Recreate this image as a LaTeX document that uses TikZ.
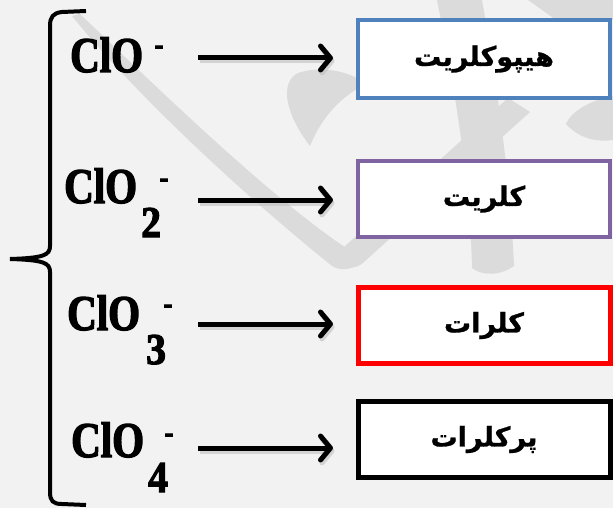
\documentclass[tikz,border=0pt]{standalone}
\usepackage{fontspec}
\usetikzlibrary{arrows.meta}
\setmainfont{Liberation Serif}
\newfontfamily\ionfont[UprightFont={* Bold}, FakeBold=2.5, FakeStretch=0.82]{Liberation Serif}
\newfontfamily\idxfont[UprightFont={* Bold}, FakeBold=2.5, FakeStretch=0.9]{Liberation Serif}
\newfontfamily\arabicfont[Script=Arabic, FakeBold=1]{DejaVu Sans}
\TeXXeTstate=1

\definecolor{bg}{HTML}{F2F2F2}
\definecolor{wm}{HTML}{DBDBDB}
\definecolor{boxblue}{HTML}{4F81BD}
\definecolor{boxpurple}{HTML}{8064A2}
\definecolor{boxred}{HTML}{FF0000}

\tikzset{
  brace/.style={line width=4pt, black},
  ion/.style={anchor=base west, inner sep=0pt, text depth=0pt,
    font=\ionfont\fontsize{50}{50}\selectfont},
  charge/.style={inner sep=0pt, font=\idxfont\fontsize{30}{30}\selectfont},
  idx/.style={anchor=base west, inner sep=0pt, text depth=0pt,
    font=\idxfont\fontsize{44}{44}\selectfont},
  arr/.style={line width=5pt,
    -{Straight Barb[length=10pt,width=24pt,line cap=round,line join=round]}},
  arrshadow/.style={arr, draw=black!25, opacity=0.6},
  namebox/.style={draw, line width=4pt, fill=white, minimum width=252pt,
    inner sep=0pt, font=\arabicfont\bfseries\fontsize{27}{27}\selectfont},
}

\begin{document}
\begin{tikzpicture}[x=1pt,y=-1pt]
  \useasboundingbox (0,0) rectangle (613,508);
  \fill[bg] (0,0) rectangle (613,508);

  % calligraphic watermark in the background
  \fill[wm] (72,16) -- (80,14)
    .. controls (180,110) and (290,215) .. (362,258)
    .. controls (356,270) and (342,272) .. (332,266)
    .. controls (250,200) and (140,100) .. cycle;
  \fill[wm] (332,258) -- (508,98) -- (530,112) -- (364,262)
    .. controls (356,270) and (342,270) .. cycle;
  \fill[wm] (437,0) -- (482,0) .. controls (498,90) and (510,180) .. (514,266)
    .. controls (500,276) and (482,276) .. (472,268)
    .. controls (470,180) and (455,90) .. cycle;
  \fill[wm] (310,146) .. controls (284,112) and (280,82) .. (298,73)
    .. controls (325,64) and (355,74) .. (366,84)
    .. controls (342,96) and (322,116) .. cycle;
  \fill[wm] (528,0) -- (613,0) -- (613,20) -- (556,20) -- cycle;
  \fill[wm] (613,96) .. controls (592,100) and (572,110) .. (566,124)
    .. controls (580,140) and (600,142) .. (613,140) -- cycle;

  % grouping brace
  \draw[brace] (86,11) -- (62,12) .. controls (53,13) and (50,17) .. (50,26)
    -- (50,246) .. controls (50,255) and (44,258) .. (10,259);
  \draw[brace] (10,259) .. controls (44,260) and (50,263) .. (50,272)
    -- (50,492) .. controls (50,501) and (53,504) .. (62,504) -- (86,505);

  % oxyanions of chlorine
  \node[ion] (f1) at (70,72) {ClO};
  \node[charge] (c1) at (159,50) {-};

  \node[ion] (f2) at (64,203) {ClO};
  \node[charge] (c2) at (164,183) {-};
  \node[idx] (i2) at (141,237) {2};

  \node[ion] (f3) at (67,330) {ClO};
  \node[charge] (c3) at (168,309) {-};
  \node[idx] (i3) at (146,364) {3};

  \node[ion] (f4) at (71,457) {ClO};
  \node[charge] (c4) at (169,438) {-};
  \node[idx] (i4) at (148,492) {4};

  % arrow end points
  \coordinate (s1) at (198,58);  \coordinate (e1) at (333,58);
  \coordinate (s2) at (198,200); \coordinate (e2) at (333,200);
  \coordinate (s3) at (198,324); \coordinate (e3) at (333,324);
  \coordinate (s4) at (198,448); \coordinate (e4) at (333,448);

  \foreach \k in {1,2,3,4}{
    \draw[arrshadow] ([shift={(1.5,3)}]s\k) -- ([shift={(1.5,3)}]e\k);
    \draw[arr] (s\k) -- (e\k);
  }

  % names of the ions
  \node[namebox, draw=boxblue, minimum height=78pt] (b1) at (484,59)
    {\beginR هیپوکلریت\endR};
  \node[namebox, draw=boxpurple, minimum height=76pt] (b2) at (484,199)
    {\beginR کلریت\endR};
  \node[namebox, draw=boxred, line width=5pt, minimum height=76pt] (b3) at (484,325.5)
    {\beginR کلرات\endR};
  \node[namebox, draw=black, line width=5pt, minimum height=76pt] (b4) at (484,439.5)
    {\beginR پرکلرات\endR};
\end{tikzpicture}
\end{document}
